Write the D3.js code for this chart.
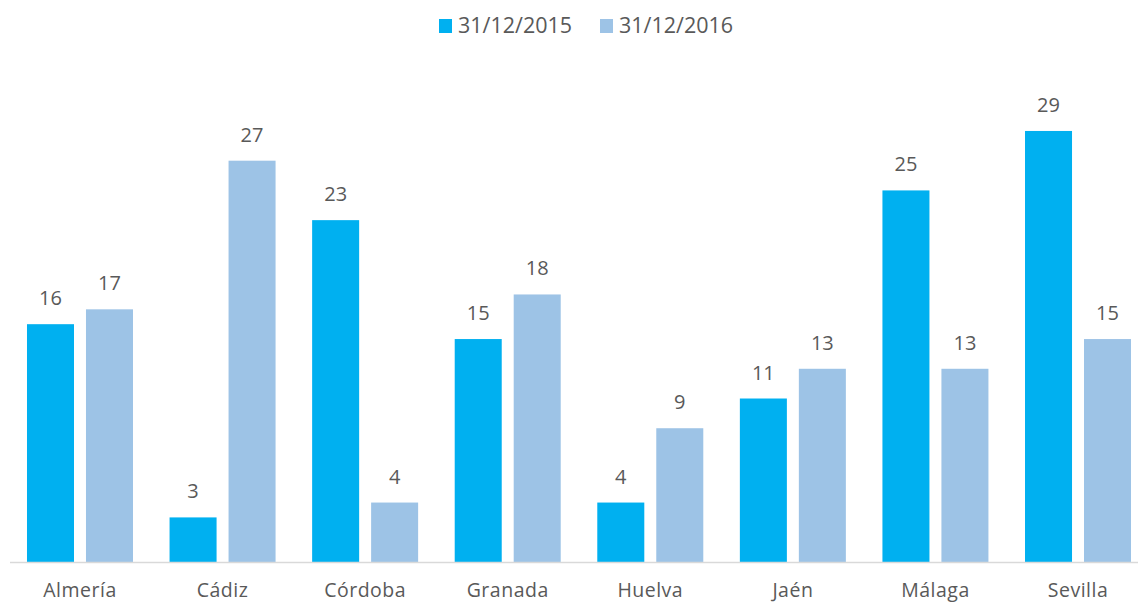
<!DOCTYPE html>
<html><head><meta charset="utf-8">
<script src="https://cdn.jsdelivr.net/npm/d3@7"></script>
<style>html,body{margin:0;padding:0;background:#fff;overflow:hidden}</style>
</head><body>
<svg id="c" width="1138" height="604"></svg>
<script>
const categories = ["Almería","Cádiz","Córdoba","Granada","Huelva","Jaén","Málaga","Sevilla"];
const seriesNames = ["31/12/2015","31/12/2016"];
const values2015 = [16,3,23,15,4,11,25,29];
const values2016 = [17,27,4,18,9,13,13,15];
const colors = ["#00B0F0","#9DC3E6"];

const svg = d3.select("#c");
const font = "'Open Sans', sans-serif";
const textColor = "#595959";

const x0 = d3.scaleBand().domain(categories).range([8.7, 1149.3]).padding(0);
const x1 = d3.scaleBand().domain(seriesNames).range([0, x0.bandwidth()]).paddingInner(0.203).paddingOuter(0.31);
const y = d3.scaleLinear().domain([0, 30]).range([562, 116.1]);

const data = categories.map((c,i)=>({cat:c, vals:[{s:seriesNames[0],v:values2015[i],k:0},{s:seriesNames[1],v:values2016[i],k:1}]}));

const g = svg.selectAll("g.cat").data(data).join("g").attr("class","cat")
  .attr("transform", d=>`translate(${x0(d.cat)},0)`);

g.selectAll("rect").data(d=>d.vals).join("rect")
  .attr("x", d=>x1(d.s)).attr("width", x1.bandwidth())
  .attr("y", d=>y(d.v)).attr("height", d=>y(0)-y(d.v))
  .attr("fill", d=>colors[d.k]);

g.selectAll("text.val").data(d=>d.vals).join("text").attr("class","val")
  .attr("x", d=>x1(d.s)+x1.bandwidth()/2).attr("y", d=>y(d.v)-19)
  .attr("text-anchor","middle").attr("font-family",font).attr("font-size",20)
  .attr("fill",textColor).text(d=>d.v);

// axis
const xAxis = d3.axisBottom(x0).tickSize(0).tickPadding(0);
const ax = svg.append("g").attr("transform","translate(0,562.5)").call(xAxis);
ax.select(".domain").remove();
ax.append("line").attr("x1",10).attr("x2",1138).attr("y1",0).attr("y2",0)
  .attr("stroke","#D9D9D9").attr("stroke-width",1.5);
ax.selectAll(".tick text").attr("font-family",font).attr("font-size",19.5)
  .attr("letter-spacing","0.5px")
  .attr("fill",textColor).attr("dy",null).attr("y",34.5);

// legend
const legendX = [439, 600];
const lg = svg.selectAll("g.leg").data(seriesNames).join("g").attr("class","leg")
  .attr("transform",(d,i)=>`translate(${legendX[i]},0)`);
lg.append("rect").attr("x",0).attr("y",19).attr("width",13).attr("height",14).attr("fill",(d,i)=>colors[i]);
lg.append("text").attr("x",19).attr("y",33).attr("font-family",font).attr("font-size",21.5)
  .attr("fill",textColor).text(d=>d);
</script>
</body></html>
